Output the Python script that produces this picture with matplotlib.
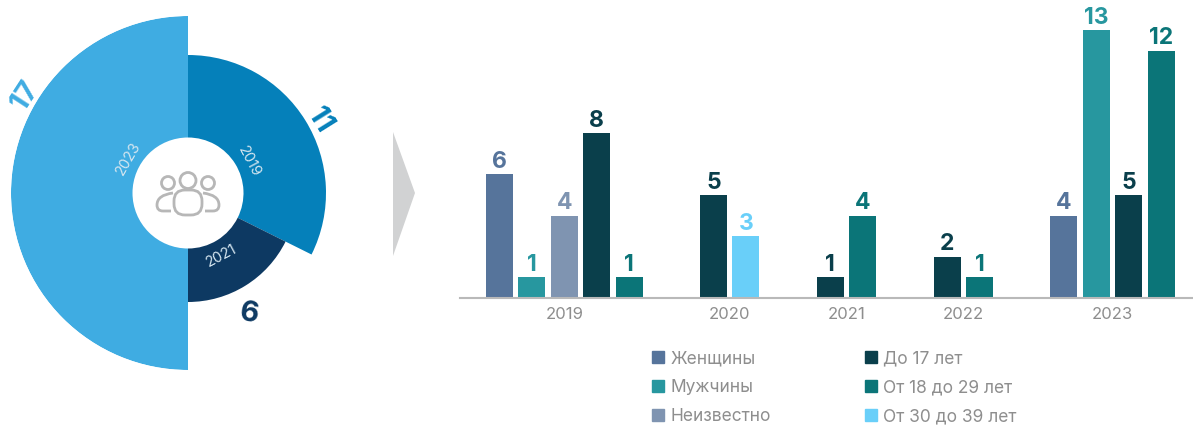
import numpy as np
from matplotlib import pyplot as plt
from matplotlib.patches import Circle, FancyBboxPatch, PathPatch, Polygon, Patch
from matplotlib.path import Path

plt.rcParams['font.family'] = ['Inter', 'DejaVu Sans']

# donut on the left
donut_years = ['2019', '2021', '2023']
donut_values = [11, 6, 17]
donut_radius = [138, 109, 177]
donut_colors = ['#0580BA', '#0D3962', '#3FACE2']

# bars on the right, 0 = no bar in that year
years = ['2019', '2020', '2021', '2022', '2023']
series_names = ['Женщины', 'Мужчины', 'Неизвестно', 'До 17 лет', 'От 18 до 29 лет', 'От 30 до 39 лет']
women = [6, 0, 0, 0, 4]
men = [1, 0, 0, 0, 13]
unknown = [4, 0, 0, 0, 0]
under_17 = [8, 5, 1, 2, 5]
age_18_29 = [1, 0, 4, 1, 12]
age_30_39 = [0, 3, 0, 0, 0]
series_values = [women, men, unknown, under_17, age_18_29, age_30_39]
series_colors = ['#56749B', '#27979F', '#7F94B1', '#0A3F4B', '#0B7578', '#69CFF9']

W, H = 1193, 425
GRAY = '#8E8E8E'
ICON = '#B7B7B7'

fig = plt.figure(figsize=(W / 100, H / 100), dpi=100)


def box(x0, y0, x1, y1):
    # pixel box (y from the top) to figure fractions
    return [x0 / W, 1 - y1 / H, (x1 - x0) / W, (y1 - y0) / H]


# overlay in pixel coordinates for arrow, icon and donut texts
over = fig.add_axes([0, 0, 1, 1], zorder=5)
over.set_xlim(0, W)
over.set_ylim(H, 0)
over.axis('off')

# donut
pol = fig.add_axes(box(11, 16, 365, 370), projection='polar')
pol.set_theta_zero_location('N')
pol.set_theta_direction(-1)
pol.set_ylim(0, 177)
pol.axis('off')
inner = 55.5
start = 0
for value, radius, color in zip(donut_values, donut_radius, donut_colors):
    width = value / sum(donut_values) * 2 * np.pi
    pol.bar(start, radius - inner, width=width, bottom=inner, align='edge', color=color, linewidth=0)
    start += width

year_places = [(249, 162, -62), (221, 256, 28), (128, 158, 60)]
value_places = [(320, 121, -58), (249, 314, -8), (25, 95, 57)]
for i in range(3):
    x, y, rot = year_places[i]
    over.text(x, y, donut_years[i], color='#D5E6F0', fontsize=10.5, rotation=rot, ha='center', va='center')
    x, y, rot = value_places[i]
    over.text(x, y, str(donut_values[i]), color=donut_colors[i], fontsize=21, fontweight='bold',
              rotation=rot, ha='center', va='center')

# people icon
over.add_patch(Circle((188, 180.5), 8, fc='none', ec=ICON, lw=2))
over.add_patch(Circle((168, 183), 6.5, fc='none', ec=ICON, lw=2))
over.add_patch(Circle((208, 183), 6.5, fc='none', ec=ICON, lw=2))
over.add_patch(FancyBboxPatch((183, 199), 10, 7, boxstyle='round,pad=9,rounding_size=11', fc='none', ec=ICON, lw=2))
left_body = [(173, 193), (157, 195), (157, 205), (157, 211), (163, 211), (171, 211)]
codes = [Path.MOVETO, Path.CURVE3, Path.CURVE3, Path.CURVE3, Path.CURVE3, Path.LINETO]
over.add_patch(PathPatch(Path(left_body, codes), fc='none', ec=ICON, lw=2))
right_body = [(376 - x, y) for x, y in left_body]
over.add_patch(PathPatch(Path(right_body, codes), fc='none', ec=ICON, lw=2))

# arrow
over.add_patch(Polygon([(393, 132), (415, 193), (393, 256)], fc='#D1D2D3', ec='none'))

# bars
ax = fig.add_axes(box(460, 0, 1193, 298))
ax.set_xlim(460, 1193)
ax.set_ylim(0, 298 / 20.6)
ax.patch.set_alpha(0)
for side in ['top', 'left', 'right']:
    ax.spines[side].set_visible(False)
ax.spines['bottom'].set_color('#B9B9B9')
ax.spines['bottom'].set_linewidth(1.5)
ax.set_yticks([])

bar_w = 27
step = 32.4
group_step = 84.4
x = 486
centers = []
for y_i in range(len(years)):
    first = x
    for s_i in range(len(series_names)):
        value = series_values[s_i][y_i]
        if value == 0:
            continue
        ax.bar(x, value, width=bar_w, align='edge', color=series_colors[s_i], linewidth=0)
        ax.annotate(str(value), (x + bar_w / 2, value), xytext=(0, 1), textcoords='offset points',
                    color=series_colors[s_i], fontsize=16.5, fontweight='bold', ha='center', va='bottom')
        x += step
    centers.append((first + x - step + bar_w) / 2)
    x += group_step - step

ax.set_xticks(centers, years)
ax.tick_params(axis='x', length=0, pad=6.5, labelsize=12, labelcolor=GRAY)

handles = [Patch(color=c) for c in series_colors]
fig.legend(handles, series_names, ncol=2, loc='upper left', bbox_to_anchor=(652 / W, 1 - 350 / H),
           frameon=False, fontsize=12.5, labelcolor=GRAY, handlelength=0.69, handleheight=0.69,
           handletextpad=0.36, labelspacing=0.7, columnspacing=5.43, borderpad=0, borderaxespad=0)

plt.savefig('out.png', dpi=100)
